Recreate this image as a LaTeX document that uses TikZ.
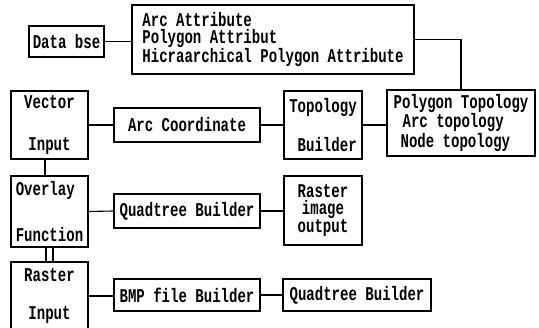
\documentclass[tikz,border=0pt]{standalone}
\usepackage{fontspec}
\newfontfamily\dfont[FakeStretch=0.72]{Liberation Mono}
\begin{document}
\begin{tikzpicture}[x=1pt,y=-1pt,
  box/.style={draw,line width=1.1pt,inner sep=0pt,
    font=\dfont\bfseries\fontsize{19.5}{15.5}\selectfont},
  link/.style={line width=1.1pt}]
\useasboundingbox (0,0) rectangle (539,328);
\node[box,minimum width=75pt,minimum height=31pt] (db) at (66.5,41.5) {Data bse};
\node[box,minimum width=282pt,minimum height=69pt,align=left,
  font=\dfont\bfseries\fontsize{19.5}{16.5}\selectfont] (attr) at (273,39.5)
  {Arc Attribute\\Polygon Attribut\\Hicraarchical Polygon Attribute};
\node[box,minimum width=77pt,minimum height=68pt,align=center] (vec) at (49.5,125)
  {Vector\\[27pt]Input};
\node[box,minimum width=146pt,minimum height=34pt] (arc) at (187,125) {Arc Coordinate};
\node[box,minimum width=78pt,minimum height=68pt,align=right] (topo) at (323,125)
  {Topology\\[20pt]Builder};
\node[box,minimum width=148pt,minimum height=66pt,align=left,
  font=\dfont\bfseries\fontsize{19.5}{17.5}\selectfont] (poly) at (461,123)
  {Polygon Topology\\\hspace*{9pt}Arc topology\\\hspace*{7pt}Node topology};
\node[box,minimum width=77pt,minimum height=71pt,align=left] (ovl) at (49.5,211.5)
  {Overlay\\[27pt]Function};
\node[box,minimum width=146pt,minimum height=34pt] (qt1) at (187,211) {Quadtree Builder};
\node[box,minimum width=78pt,minimum height=69pt,align=center,
  font=\dfont\bfseries\fontsize{19.5}{17}\selectfont] (rio) at (323,210.5)
  {Raster\\image\\output};
\node[box,minimum width=77pt,minimum height=68pt,align=center] (ras) at (49.5,296)
  {Raster\\[23pt]Input};
\node[box,minimum width=146pt,minimum height=32pt] (bmp) at (187,295) {BMP file Builder};
\node[box,minimum width=148pt,minimum height=32pt] (qt2) at (357,295) {Quadtree Builder};
\draw[link] (db.east) -- (db.east -| attr.west);
\draw[link] (attr.east) -| (poly.north);
\draw[link] (vec.east) -- (arc.west);
\draw[link] (arc.east) -- (topo.west);
\draw[link] (topo.east) -- (topo.east -| poly.west);
\draw[link] ([xshift=-4.5pt]vec.south) -- ([xshift=-4.5pt]vec.south |- ovl.north);
\draw[link] ([xshift=-3.5pt]ovl.south) -- ([xshift=-3.5pt]ovl.south |- ras.north);
\draw[link] ([xshift=3.5pt]ovl.south) -- ([xshift=3.5pt]ovl.south |- ras.north);
\draw[link] (ovl.east) -- (qt1.west);
\draw[link] (qt1.east) -- (qt1.east -| rio.west);
\draw[link] (ras.east) -- (ras.east -| bmp.west);
\draw[link] (bmp.east) -- (qt2.west);
\end{tikzpicture}
\end{document}
